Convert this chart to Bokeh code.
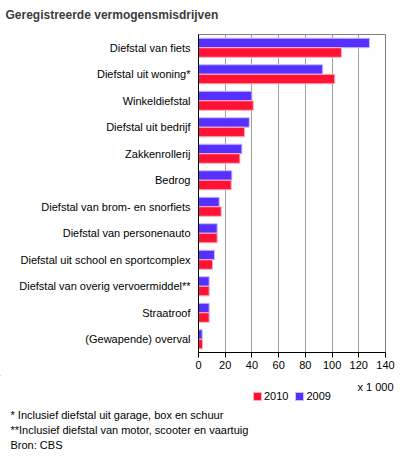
from bokeh.plotting import figure
from bokeh.layouts import column
from bokeh.models import (FactorRange, Legend, LegendItem, ColumnDataSource, FixedTicker,
                          Label, Range1d)
from bokeh.transform import dodge
from bokeh.embed import file_html
from bokeh.resources import INLINE

categories = [
    "Diefstal van fiets",
    "Diefstal uit woning*",
    "Winkeldiefstal",
    "Diefstal uit bedrijf",
    "Zakkenrollerij",
    "Bedrog",
    "Diefstal van brom- en snorfiets",
    "Diefstal van personenauto",
    "Diefstal uit school en sportcomplex",
    "Diefstal van overig vervoermiddel**",
    "Straatroof",
    "(Gewapende) overval",
]
values_2010 = [107, 102, 41, 34.5, 31, 24.5, 17, 14, 10.5, 8, 8, 3]
values_2009 = [128, 93, 40, 38, 32.5, 25, 15.5, 14, 12, 8, 8, 2.8]
x_ticks = [0, 20, 40, 60, 80, 100, 120, 140]
series_names = ["2010", "2009"]
title_text = "Geregistreerde vermogensmisdrijven"
unit_text = "x 1 000"
footnotes = ["* Inclusief diefstal uit garage, box en schuur",
             "**Inclusief diefstal van motor, scooter en vaartuig",
             "Bron: CBS"]

FONT = "Liberation Sans"
BLUE = "#5530ff"
RED = "#ff1233"
BLUE_EDGE = "#c8bfff"
RED_EDGE = "#ffb0bf"


def text_panel(height):
    fig = figure(width=400, height=height, x_range=Range1d(0, 400), y_range=Range1d(height, 0),
                 x_axis_type=None, y_axis_type=None, output_backend="svg",
                 toolbar_location=None, min_border_left=0, min_border_right=0,
                 min_border_top=0, min_border_bottom=0)
    fig.frame_align = False
    fig.outline_line_color = None
    fig.grid.grid_line_color = None
    fig.background_fill_color = "white"
    fig.border_fill_color = "white"
    return fig


# header with title
h = text_panel(26)
h.add_layout(Label(x=5, y=14, text=title_text, text_font=FONT, text_font_size="12px",
                   text_font_style="bold", text_color="#3c3c3c",
                   text_baseline="middle", text_align="left"))

# main chart
src = ColumnDataSource(dict(cat=categories, v2010=values_2010, v2009=values_2009))

p = figure(
    width=400, height=349,
    y_range=FactorRange(*reversed(categories)),
    x_range=(0, 140),
    output_backend="svg", toolbar_location=None,
    min_border_left=198, min_border_top=8, min_border_right=15, min_border_bottom=23,
)
p.frame_align = False

p.hbar(y=dodge("cat", 0.18, range=p.y_range), right="v2009", left=0, height=0.36,
       source=src, fill_color=BLUE, line_color=BLUE_EDGE, line_width=1)
p.hbar(y=dodge("cat", -0.18, range=p.y_range), right="v2010", left=0, height=0.36,
       source=src, fill_color=RED, line_color=RED_EDGE, line_width=1)

p.xgrid.ticker = FixedTicker(ticks=x_ticks)
p.xgrid.grid_line_color = "#a0a0a0"
p.ygrid.grid_line_color = None
p.outline_line_color = "#808080"
p.background_fill_color = "white"
p.border_fill_color = "white"

p.xaxis.ticker = FixedTicker(ticks=x_ticks)
p.xaxis.axis_line_color = "black"
p.xaxis.major_tick_line_color = "black"
p.xaxis.major_tick_out = 5
p.xaxis.major_tick_in = 0
p.xaxis.minor_tick_line_color = None
p.xaxis.major_label_standoff = 3
p.xaxis.major_label_text_font = FONT
p.xaxis.major_label_text_font_size = "11px"
p.xaxis.major_label_text_color = "black"

p.yaxis.axis_line_color = "black"
p.yaxis.major_tick_line_color = None
p.yaxis.major_tick_out = 0
p.yaxis.major_tick_in = 0
p.yaxis.major_label_standoff = 8
p.yaxis.major_label_text_font = FONT
p.yaxis.major_label_text_font_size = "11px"
p.yaxis.major_label_text_color = "black"

# footer: unit label, legend, footnotes
f = text_panel(80)

# legend proxies (kept outside the visible frame)
proxy = ColumnDataSource(dict(y=[-500], left=[-500], right=[-400]))
l10 = f.hbar(y="y", left="left", right="right", height=1, source=proxy,
             fill_color=RED, line_color=RED_EDGE)
l09 = f.hbar(y="y", left="left", right="right", height=1, source=proxy,
             fill_color=BLUE, line_color=BLUE_EDGE)

legend = Legend(
    items=[LegendItem(label=series_names[0], renderers=[l10]),
           LegendItem(label=series_names[1], renderers=[l09])],
    location=(252, 53), orientation="horizontal",
    glyph_width=10, glyph_height=10, label_standoff=2, spacing=6, padding=0, margin=0,
    label_height=12, label_text_font=FONT, label_text_font_size="11px",
    label_text_color="black",
    border_line_color=None, background_fill_alpha=0,
)
f.add_layout(legend, "center")

f.add_layout(Label(x=393, y=11, text=unit_text, text_font=FONT, text_font_size="11px",
                   text_color="black", text_baseline="middle", text_align="right"))
for i, t in enumerate(footnotes):
    f.add_layout(Label(x=10, y=39 + 15 * i, text=t, text_font=FONT, text_font_size="11px",
                       text_color="black", text_baseline="middle", text_align="left"))

layout = column(h, p, f, spacing=0)
open("out.html", "w").write(file_html(layout, INLINE))
